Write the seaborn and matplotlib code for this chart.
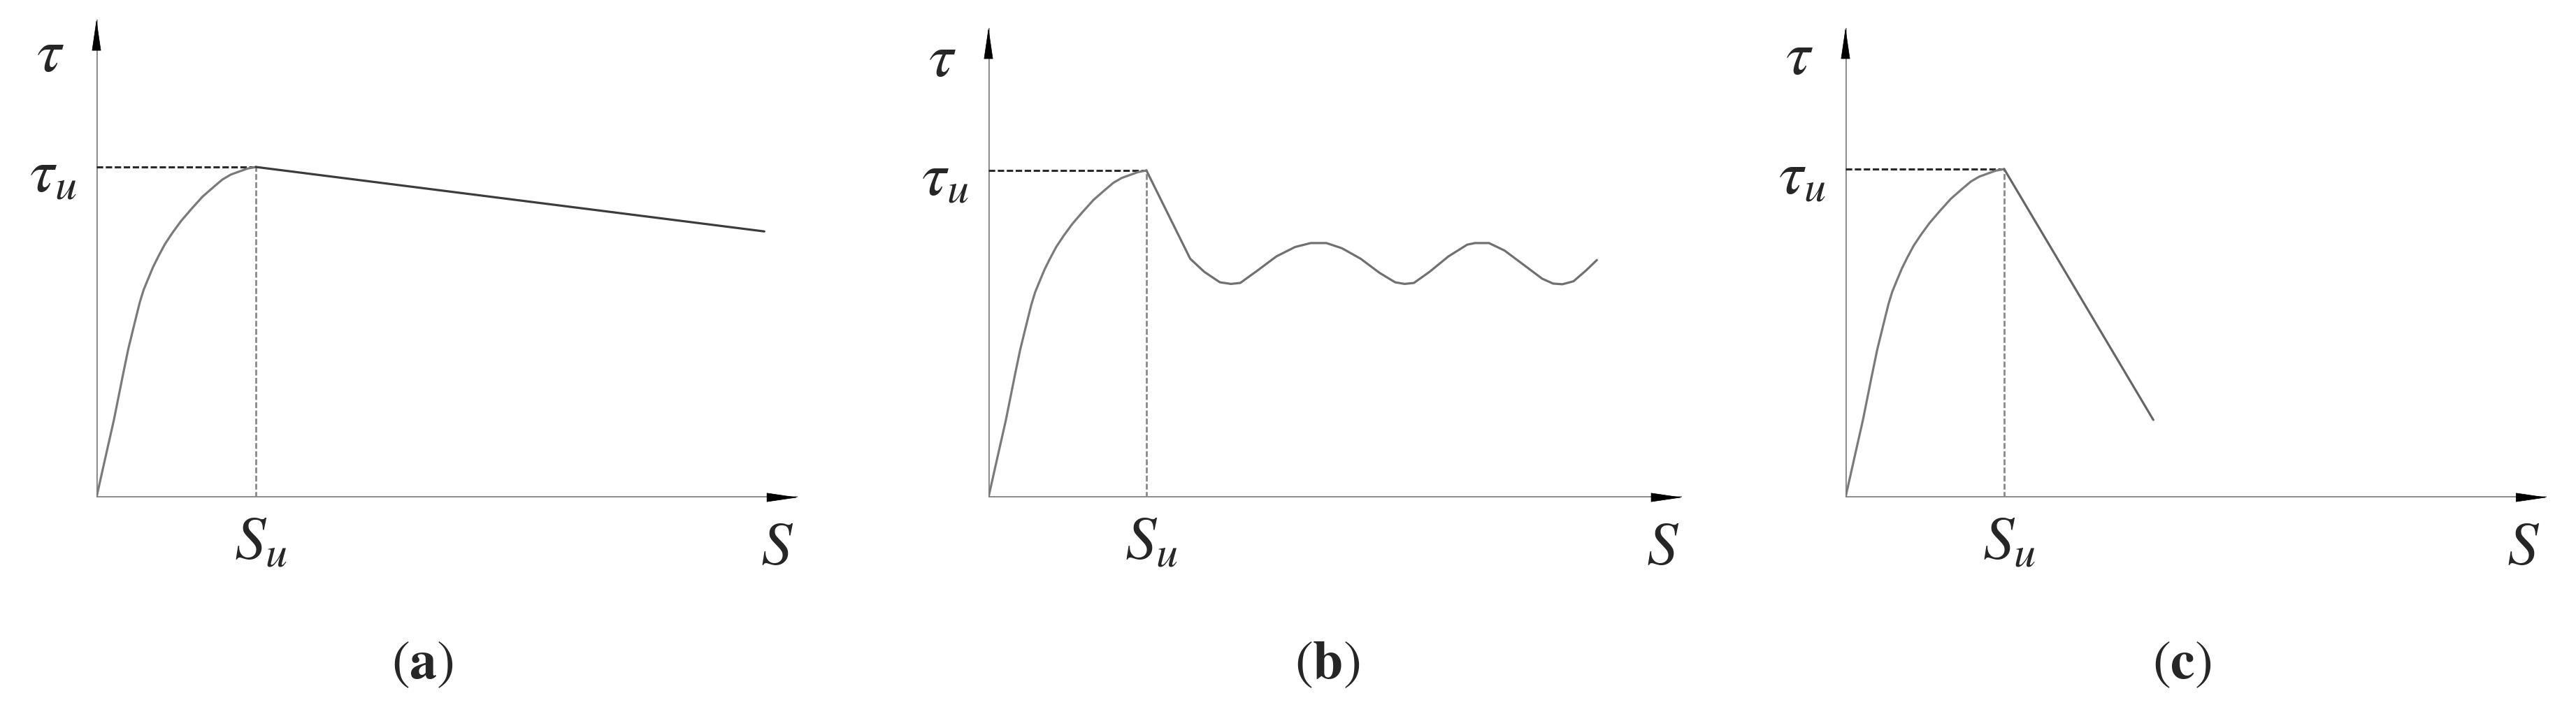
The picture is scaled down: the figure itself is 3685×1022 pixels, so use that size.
import numpy as np
import matplotlib
matplotlib.use('Agg')
import matplotlib.pyplot as plt
import seaborn as sns

# ========================
# DATA (S / Su , tau / tau_u)
# ========================
SU = 1.0
TAU_U = 1.0

# pre-peak rising branch (same for all three panels)
rise_s   = [0.0, 0.044, 0.110, 0.169, 0.200, 0.235, 0.271, 0.295, 0.323, 0.355, 0.389,
            0.430, 0.477, 0.530, 0.594, 0.665, 0.741, 0.790, 0.843, 0.946, 1.0]
rise_tau = [0.0, 0.095, 0.236, 0.378, 0.450, 0.519, 0.589, 0.627, 0.660, 0.697, 0.730,
            0.767, 0.801, 0.836, 0.872, 0.910, 0.942, 0.962, 0.977, 0.995, 1.0]

# (a) slow softening
post_a_s   = [1.0, 4.19]
post_a_tau = [1.0, 0.805]

# (b) drop then oscillation
post_b_s   = [1.0, 1.277, 1.366, 1.465, 1.535, 1.594, 1.703, 1.822, 1.941, 2.040, 2.139,
              2.238, 2.356, 2.475, 2.574, 2.634, 2.693, 2.792, 2.911, 3.030, 3.079,
              3.168, 3.267, 3.386, 3.505, 3.574, 3.633, 3.703, 3.782, 3.851]
post_b_tau = [1.0, 0.730, 0.690, 0.658, 0.653, 0.656, 0.694, 0.737, 0.766, 0.778, 0.778,
              0.762, 0.730, 0.687, 0.658, 0.653, 0.656, 0.690, 0.737, 0.773, 0.778,
              0.778, 0.755, 0.712, 0.669, 0.654, 0.652, 0.661, 0.694, 0.726]

# (c) linear softening
post_c_s   = [1.0, 1.94]
post_c_tau = [1.0, 0.236]

panel_tags = ['a', 'b', 'c']
post_s   = [post_a_s, post_b_s, post_c_s]
post_tau = [post_a_tau, post_b_tau, post_c_tau]
post_col = ['#3c3c3c', '#707070', '#666666']

# ========================
# LAYOUT (pixels of the 3685x1022 canvas)
# ========================
W, H = 3685, 1022
origin_x = [138, 1414, 2640]
origin_y = 712
unit_x = [228, 226, 227]
unit_y = [473, 468, 470]
x_tip = [4.40, 4.39, 4.42]
y_tip = [1.446, 1.436, 1.43]
tag_x = [604, 1899, 3121]

sns.set_style('white')
plt.rcParams['font.family'] = ['Liberation Serif', 'DejaVu Serif']
plt.rcParams['mathtext.fontset'] = 'stix'

fig = plt.figure(figsize=(W / 100, H / 100), dpi=100)

XMAX, YMAX = 4.6, 1.5
for i in range(3):
    ox, ux, uy = origin_x[i], unit_x[i], unit_y[i]
    ax = fig.add_axes([ox / W, (H - origin_y) / H, XMAX * ux / W, YMAX * uy / H])
    ax.set_xlim(0, XMAX)
    ax.set_ylim(0, YMAX)
    ax.axis('off')

    # axes lines
    ax.plot([0, x_tip[i]], [0, 0], color='#808080', lw=2.6, solid_capstyle='butt')
    ax.plot([0, 0], [0, y_tip[i]], color='#808080', lw=2.6, solid_capstyle='butt')
    hl_x = 42 / ux
    hl_y = 42 / uy
    ax.annotate('', xy=(x_tip[i], 0), xytext=(x_tip[i] - hl_x, 0),
                arrowprops=dict(arrowstyle='-|>,head_length=1.5,head_width=0.22',
                                color='black', lw=0.5, shrinkA=0, shrinkB=0,
                                mutation_scale=20))
    ax.annotate('', xy=(0, y_tip[i]), xytext=(0, y_tip[i] - hl_y),
                arrowprops=dict(arrowstyle='-|>,head_length=1.5,head_width=0.22',
                                color='black', lw=0.5, shrinkA=0, shrinkB=0,
                                mutation_scale=20))

    # guide lines
    ax.plot([0, SU], [TAU_U, TAU_U], color='#2a2a2a', lw=2.2, ls=(0, (3, 1.2)))
    ax.plot([SU, SU], [0, TAU_U], color='#8a8a8a', lw=2.0, ls=(0, (3, 1.2)))

    # curves
    sns.lineplot(x=rise_s, y=rise_tau, ax=ax, color='#7a7a7a', lw=2.3,
                 sort=False, estimator=None)
    sns.lineplot(x=post_s[i], y=post_tau[i], ax=ax, color=post_col[i], lw=2.3,
                 sort=False, estimator=None)

    # labels
    fs = 64
    ax.text(-66 / ux, 1.335, r'$\tau$', fontsize=fs, ha='center', va='center')
    ax.text(-28 / ux, TAU_U - 0.03, r'$\tau_u$', fontsize=fs, ha='right', va='center')
    ax.text(SU + 0.03, -26 / uy, r'$S_u$', fontsize=fs, ha='center', va='top')
    ax.text(4.27, -34 / uy, r'$S$', fontsize=fs, ha='center', va='top')

    fig.text(tag_x[i] / W, (H - 952) / H, r'$(\mathbf{%s})$' % panel_tags[i],
             fontsize=56, ha='center', va='center')

plt.savefig('out.png', dpi=100, facecolor='white')
plt.close()
